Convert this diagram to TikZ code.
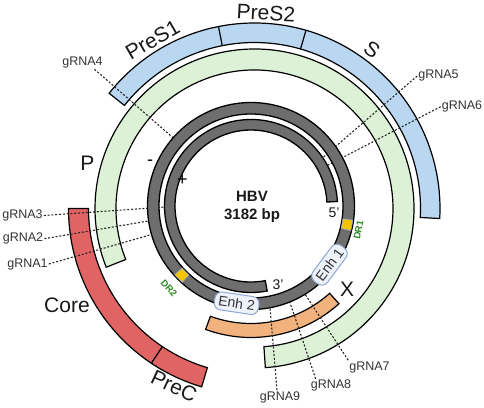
\documentclass[tikz,border=0pt]{standalone}
\usepackage{fontspec}
\setmainfont{Liberation Sans}
\usetikzlibrary{calc}
\definecolor{bluefill}{HTML}{BAD7F1}
\definecolor{greenfill}{HTML}{DCF1D6}
\definecolor{redfill}{HTML}{E06464}
\definecolor{orangefill}{HTML}{F2B27E}
\definecolor{ringgray}{HTML}{6E6E6E}
\definecolor{dryellow}{HTML}{F5C400}
\definecolor{drgreen}{HTML}{2A8A1F}
\definecolor{enhborder}{HTML}{8EA6D4}
\definecolor{enhfill}{HTML}{EEF3FB}
\definecolor{txtgray}{HTML}{333333}
\newcommand\mysector[6]{\draw[#1] ($(#2)+(#3:#6)$) arc[start angle=#3, end angle=#4, radius=#6] -- ($(#2)+(#4:#5)$) arc[start angle=#4, end angle=#3, radius=#5] -- cycle;}
\begin{document}
\begin{tikzpicture}[x=1pt,y=1pt,
  seg/.style={draw=black, line width=1.2pt, line join=miter},
  blueseg/.style={seg, fill=bluefill},
  greenseg/.style={seg, fill=greenfill},
  redseg/.style={seg, fill=redfill},
  orangeseg/.style={seg, fill=orangefill},
  ring/.style={draw=black, line width=1.3pt, fill=ringgray},
  drbox/.style={draw=enhborder, line width=0.6pt, fill=dryellow},
  divider/.style={draw=black, line width=1.2pt},
  guide/.style={draw=black!85, line width=1.1pt, dash pattern=on 2pt off 1.8pt},
  glab/.style={font=\fontsize{12.5}{14}\selectfont, text=txtgray, inner sep=1pt},
  big/.style={font=\fontsize{21}{24}\selectfont, text=black!90, inner sep=0pt},
  enh/.style={draw=enhborder, fill=enhfill, line width=1pt, rounded corners=7pt, font=\fontsize{14}{16}\selectfont, text=txtgray, inner xsep=4pt, inner ysep=2pt, minimum height=18pt},
  drlab/.style={font=\bfseries\fontsize{9.5}{11}\selectfont, text=drgreen, inner sep=0pt},
  endlab/.style={font=\fontsize{14}{16}\selectfont, text=black!90, inner sep=0pt}
]
\useasboundingbox (0,0) rectangle (484,407);
\coordinate (G) at (251,201);
\coordinate (C) at (254.5,198.5);

% coloured gene arcs
\mysector{blueseg}{C}{141.6}{-3.1}{166}{185.5}
\draw[divider] ($(C)+(101.2:166)$) -- ($(C)+(101.2:185.5)$);
\draw[divider] ($(C)+(73.9:166)$) -- ($(C)+(73.9:185.5)$);
\mysector{redseg}{C}{180}{253.5}{166}{186}
\draw[divider] ($(C)+(236.3:166)$) -- ($(C)+(236.3:186)$);
\mysector{greenseg}{C}{-86.1}{201.6}{138.5}{159.5}
\mysector{orangeseg}{G}{249.8}{312}{117.5}{131.5}

% gRNA labels
\node[glab] (g1) at (27.5,143) {gRNA1};
\node[glab] (g2) at (23,168.3) {gRNA2};
\node[glab] (g3) at (22.5,191.5) {gRNA3};
\node[glab] (g4) at (82.5,344.5) {gRNA4};
\node[glab] (g5) at (438.5,331) {gRNA5};
\node[glab] (g6) at (462,300.3) {gRNA6};
\node[glab] (g7) at (369.5,40) {gRNA7};
\node[glab] (g8) at (331,21.3) {gRNA8};
\node[glab] (g9) at (280,10) {gRNA9};

\coordinate (e1) at ($(G)+(196:103.5)$);
\coordinate (e2) at ($(G)+(188.3:103.5)$);
\coordinate (e3) at ($(G)+(180.7:86.5)$);
\coordinate (e4) at ($(G)+(138.8:103.5)$);
\coordinate (e5) at ($(G)+(34:86.5)$);
\coordinate (e6) at ($(G)+(28:86.5)$);
\coordinate (e7) at ($(G)+(-58.5:103.5)$);
\coordinate (e8) at ($(G)+(-68:103.5)$);
\coordinate (e9) at ($(G)+(-79.4:103.5)$);

\draw[guide] (g1.east) -- (e1);
\draw[guide] (g2.east) -- (e2);
\draw[guide] (g3.east) -- (e3);
\draw[guide] ($(g4.south)+(12,0)$) -- (e4);
\draw[guide] (g5.west) -- (e5);
\draw[guide] (g6.west) -- (e6);
\draw[guide] (g7.north west) -- (e7);
\draw[guide] ($(g8.north west)+(6,0)$) -- (e8);
\draw[guide] ($(g9.north)+(-3,0)$) -- (e9);

% DNA strands
\draw[ring, even odd rule] (G) circle[radius=103.5] (G) circle[radius=92];
\mysector{ring}{G}{3}{280.8}{76}{86.5}

% direct repeats
\mysector{drbox}{G}{-13.9}{-7.9}{92.8}{102.7}
\mysector{drbox}{G}{222}{228}{92.8}{102.7}
\node[drlab, rotate=79] (dr1) at (358.5,177) {DR1};
\node[drlab, rotate=-48] (dr2) at (169,119) {DR2};

% enhancers
\node[enh, rotate=53.2] (enh1) at ($(G)+(-36.8:98)$) {Enh 1};
\node[enh, rotate=-8.4] (enh2) at ($(G)+(261.6:98.3)$) {Enh 2};

% centre text
\node[font=\bfseries\fontsize{15}{18}\selectfont, align=center, text=black!90] (hbv) at (252,200) {HBV\\3182 bp};

% strand ends and signs
\node[endlab] (five) at (334,194.5) {5’};
\node[endlab] (three) at (278,122) {3’};
\node[font=\fontsize{18}{20}\selectfont, inner sep=0pt] (minus) at (150,244) {-};
\node[font=\fontsize{18}{20}\selectfont, inner sep=0pt] (plus) at (182.5,227) {+};

% gene labels
\node[big] (lp) at (87.3,243.7) {P};
\node[big, rotate=30] (lpres1) at (152.5,367) {PreS1};
\node[big, rotate=-3] (lpres2) at (266,394) {PreS2};
\node[big, rotate=-35] (ls) at (372,357) {S};
\node[big] (lcore) at (67,101.3) {Core};
\node[big, rotate=-25] (lprec) at (174,20.5) {PreC};
\node[big] (lx) at (347,118) {X};
\end{tikzpicture}
\end{document}
